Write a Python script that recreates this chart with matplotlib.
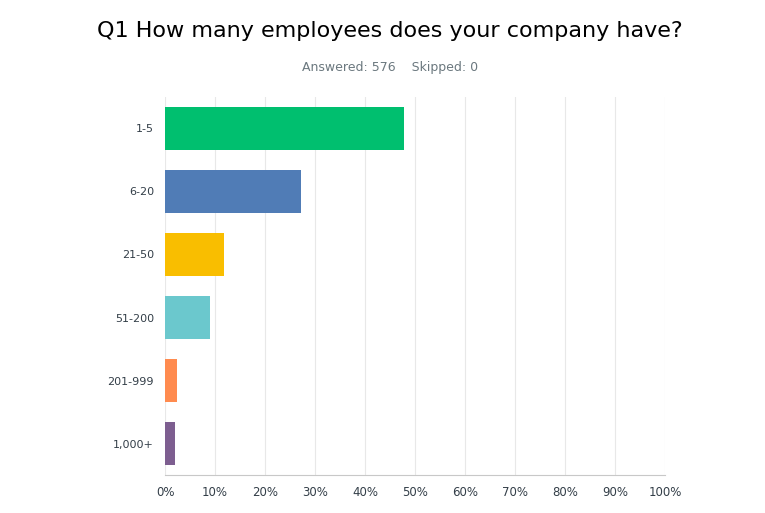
import matplotlib.pyplot as plt
import numpy as np

categories = ["1-5", "6-20", "21-50", "51-200", "201-999", "1,000+"]
values = [47.8, 27.2, 11.8, 9.0, 2.4, 2.0]
colors = ["#00bf6f", "#507cb6", "#f9be00", "#6bc8cd", "#ff8b4f", "#7d5e90"]
ticks = list(range(0, 101, 10))
tick_labels = [f"{t}%" for t in ticks]

fig = plt.figure(figsize=(7.65, 5.13), dpi=100)
ax = fig.add_axes([0.2157, 0.074, 0.6536, 0.737])

y = np.arange(len(categories))
ax.barh(y, values, color=colors, height=0.68, zorder=3)
ax.set_ylim(len(categories) - 0.5, -0.5)
ax.set_xlim(0, 100)
ax.set_yticks(y)
ax.set_yticklabels(categories, fontsize=8, color="#333e48")
ax.set_xticks(ticks)
ax.set_xticklabels(tick_labels, fontsize=8.5, color="#333e48")
ax.tick_params(length=0, pad=8)
ax.grid(axis="x", color="#e8e8e8", linewidth=0.8, zorder=0)
for s in ["top", "right", "left"]:
    ax.spines[s].set_visible(False)
ax.spines["bottom"].set_color("#c8c8c8")

fig.text(0.51, 0.94, "Q1 How many employees does your company have?",
         ha="center", va="center", fontsize=16, color="#000000")
fig.text(0.51, 0.868, "Answered: 576    Skipped: 0",
         ha="center", va="center", fontsize=9, color="#6b787f")

fig.savefig("out.png", dpi=100)
